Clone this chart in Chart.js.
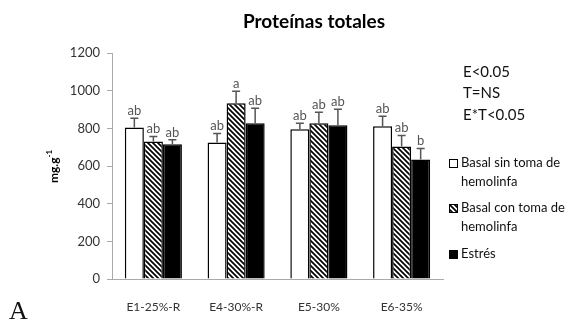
<!DOCTYPE html>
<html>
<head>
<meta charset="utf-8">
<script src="https://cdn.jsdelivr.net/npm/chart.js@4.4.0/dist/chart.umd.min.js"></script>
<style>
  html, body { margin: 0; padding: 0; background: #fff; }
  #wrap { position: relative; width: 581px; height: 321px; }
</style>
</head>
<body>
<div id="wrap"><canvas id="chartProteinas" width="581" height="321"></canvas></div>
<script>
// Proteínas totales por tratamiento (mg.g-1), media + error estándar
const categorias = ['E1-25%-R', 'E4-30%-R', 'E5-30%', 'E6-35%'];

const basalSin = [805, 725, 795, 811];
const basalSinErr = [48, 48, 32, 53];
const basalSinLetras = ['ab', 'ab', 'ab', 'ab'];

const basalCon = [730, 933, 827, 704];
const basalConErr = [27, 64, 58, 58];
const basalConLetras = ['ab', 'a', 'ab', 'ab'];

const estres = [715, 827, 816, 635];
const estresErr = [25, 80, 85, 58];
const estresLetras = ['ab', 'ab', 'ab', 'b'];

const yTicks = [0, 200, 400, 600, 800, 1000, 1200];
const estadisticos = ['E<0.05', 'T=NS', 'E*T<0.05'];
const leyenda = [
    ['Basal sin toma de', 'hemolinfa'],
    ['Basal con toma de', 'hemolinfa'],
    ['Estrés']
];

const FONT = 'Lato, "Open Sans", sans-serif';

// rayado diagonal para la serie "Basal con toma"
function patronRayado() {
    const c = document.createElement('canvas');
    c.width = 5; c.height = 5;
    const g = c.getContext('2d');
    g.fillStyle = '#fff';
    g.fillRect(0, 0, 5, 5);
    g.strokeStyle = '#000';
    g.lineWidth = 1.7;
    g.beginPath();
    g.moveTo(-1, -1); g.lineTo(6, 6);
    g.moveTo(-1, 4); g.lineTo(1, 6);
    g.moveTo(4, -1); g.lineTo(6, 1);
    g.stroke();
    return g.createPattern(c, 'repeat');
}
const rayado = patronRayado();

const errores = [basalSinErr, basalConErr, estresErr];
const letras = [basalSinLetras, basalConLetras, estresLetras];

// barras de error (solo hacia arriba) y letras de significancia
const errorBarsPlugin = {
    id: 'errorBars',
    afterDatasetsDraw(chart) {
        const ctx = chart.ctx;
        const y = chart.scales.y;
        ctx.save();
        chart.data.datasets.forEach((ds, i) => {
            const meta = chart.getDatasetMeta(i);
            meta.data.forEach((bar, j) => {
                const top = y.getPixelForValue(ds.data[j] + errores[i][j]);
                ctx.strokeStyle = '#555';
                ctx.lineWidth = 1.5;
                ctx.beginPath();
                ctx.moveTo(bar.x, bar.y);
                ctx.lineTo(bar.x, top);
                ctx.moveTo(bar.x - 4, top);
                ctx.lineTo(bar.x + 4, top);
                ctx.stroke();
                ctx.fillStyle = '#555';
                ctx.font = '13px ' + FONT;
                ctx.textAlign = 'center';
                ctx.textBaseline = 'alphabetic';
                ctx.fillText(letras[i][j], bar.x, top - 3);
            });
        });
        ctx.restore();
    }
};

// título, eje Y, estadísticos, leyenda y rótulo del panel
const textosPlugin = {
    id: 'textos',
    afterDraw(chart) {
        const ctx = chart.ctx;
        ctx.save();
        ctx.fillStyle = '#000';
        ctx.font = 'bold 19px ' + FONT;
        ctx.textAlign = 'center';
        ctx.textBaseline = 'middle';
        ctx.fillText('Proteínas totales', 314, 22);

        // mg.g-1 girado
        ctx.save();
        ctx.translate(54, 166);
        ctx.rotate(-Math.PI / 2);
        ctx.font = 'bold 12px ' + FONT;
        ctx.textAlign = 'left';
        const w = ctx.measureText('mg.g').width;
        const w2 = ctx.measureText('-1').width * 0.75;
        ctx.fillText('mg.g', -(w + w2) / 2, 0);
        ctx.font = 'bold 8px ' + FONT;
        ctx.fillText('-1', -(w + w2) / 2 + w, -5);
        ctx.restore();

        ctx.font = '15px ' + FONT;
        ctx.textAlign = 'left';
        ctx.fillStyle = '#111';
        estadisticos.forEach((t, i) => ctx.fillText(t, 463, 72 + i * 21.5));

        const colores = ['#fff', rayado, '#000'];
        const ys = [163, 208, 254];
        leyenda.forEach((lineas, i) => {
            ctx.fillStyle = colores[i];
            ctx.fillRect(449, ys[i] - 4, 8, 8);
            ctx.strokeStyle = '#000';
            ctx.lineWidth = 1;
            ctx.strokeRect(449.5, ys[i] - 3.5, 8, 8);
            ctx.fillStyle = '#111';
            ctx.font = '13px ' + FONT;
            lineas.forEach((l, k) => ctx.fillText(l, 461, ys[i] + k * 19));
        });

        ctx.font = '26px "Liberation Serif", serif';
        ctx.textBaseline = 'alphabetic';
        ctx.fillText('A', 9, 319);
        ctx.restore();
    }
};

new Chart(document.getElementById('chartProteinas').getContext('2d'), {
    type: 'bar',
    data: {
        labels: categorias,
        datasets: [
            { label: 'Basal sin toma de hemolinfa', data: basalSin, backgroundColor: '#fff', borderColor: '#000', borderWidth: 1.5 },
            { label: 'Basal con toma de hemolinfa', data: basalCon, backgroundColor: rayado, borderColor: '#000', borderWidth: 1.5 },
            { label: 'Estrés', data: estres, backgroundColor: '#000', borderColor: '#000', borderWidth: 1.5 }
        ]
    },
    options: {
        responsive: false,
        animation: false,
        layout: { padding: { left: 0, right: 138, top: 53, bottom: 0 } },
        datasets: { bar: { barPercentage: 1, categoryPercentage: 0.69 } },
        scales: {
            x: {
                afterFit: s => { s.height = 42; },
                grid: { display: false },
                border: { display: true, color: '#aaa', width: 1 },
                ticks: { padding: 13, color: '#333', font: { size: 12, family: FONT } }
            },
            y: {
                min: 0,
                max: 1200,
                afterFit: s => { s.width = 112; },
                afterBuildTicks: s => { s.ticks = yTicks.map(v => ({ value: v })); },
                grid: { drawOnChartArea: false, tickLength: 5, color: '#aaa' },
                border: { display: true, color: '#aaa', width: 1 },
                ticks: { padding: 7, color: '#333', font: { size: 13, family: FONT }, callback: v => String(v) }
            }
        },
        plugins: {
            legend: { display: false },
            tooltip: { enabled: false }
        }
    },
    plugins: [errorBarsPlugin, textosPlugin]
});
</script>
</body>
</html>
